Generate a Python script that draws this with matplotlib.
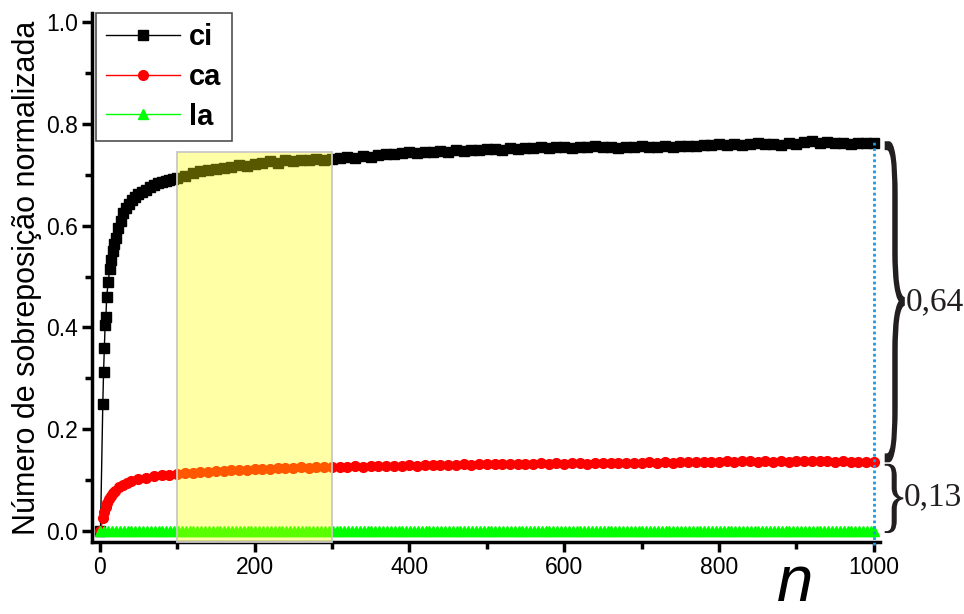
import numpy as np
import matplotlib
matplotlib.use('Agg')
import matplotlib.pyplot as plt
from matplotlib.textpath import TextPath
from matplotlib.patches import PathPatch, Rectangle
from matplotlib.font_manager import FontProperties
from matplotlib.path import Path

plt.rcParams['font.family'] = ['Liberation Sans', 'DejaVu Sans']

# overlap curves (step 10 after the initial rise)
n_ci = [1, 4, 5, 6, 7, 8, 9, 11, 13, 15, 17, 19, 21, 24, 27, 30, 34, 38, 42, 46,
        50, 55, 60, 65, 70, 75, 80, 85, 90, 95] + list(range(100, 1001, 10))
ci = [0.0, 0.25, 0.313, 0.36, 0.405, 0.42, 0.46, 0.49, 0.515, 0.532,
      0.55, 0.565, 0.575, 0.595, 0.61, 0.625, 0.635, 0.643, 0.65, 0.657,
      0.662, 0.667, 0.671, 0.676, 0.68, 0.683, 0.686, 0.688, 0.69, 0.692,
      0.693, 0.698, 0.703, 0.708, 0.709, 0.712, 0.714, 0.716, 0.719, 0.718,
      0.721, 0.724, 0.727, 0.723, 0.729, 0.728, 0.730, 0.729, 0.731, 0.730,
      0.732, 0.733, 0.735, 0.734, 0.737, 0.736, 0.739, 0.741, 0.740, 0.742,
      0.744, 0.742, 0.745, 0.744, 0.746, 0.745, 0.748, 0.747, 0.749, 0.748,
      0.750, 0.751, 0.749, 0.752, 0.751, 0.753, 0.752, 0.754, 0.753, 0.755,
      0.754, 0.753, 0.755, 0.754, 0.756, 0.754, 0.755, 0.753, 0.755, 0.754,
      0.756, 0.755, 0.754, 0.756, 0.755, 0.757, 0.756, 0.756, 0.758, 0.759,
      0.760, 0.759, 0.761, 0.759, 0.760, 0.762, 0.760, 0.761, 0.759, 0.762,
      0.761, 0.764, 0.766, 0.763, 0.764, 0.762, 0.763, 0.761, 0.763, 0.762,
      0.763]

n_ca = [1, 4, 6, 8, 10, 12, 14, 17, 20, 25, 30, 35, 40, 50, 60, 70, 80, 90] + list(range(100, 1001, 10))
ca = [0.0, 0.025, 0.038, 0.048, 0.055, 0.062, 0.068, 0.074, 0.079, 0.086,
      0.091, 0.095, 0.098, 0.102, 0.105, 0.108, 0.110, 0.111,
      0.112, 0.113, 0.114, 0.116, 0.116, 0.117, 0.118, 0.119, 0.119, 0.120,
      0.121, 0.121, 0.122, 0.123, 0.123, 0.124, 0.125, 0.124, 0.125, 0.126,
      0.126, 0.125, 0.126, 0.127, 0.126, 0.127, 0.127, 0.128, 0.127, 0.128,
      0.129, 0.128, 0.129, 0.130, 0.129, 0.130, 0.130, 0.131, 0.130, 0.131,
      0.131, 0.132, 0.131, 0.132, 0.131, 0.132, 0.132, 0.133, 0.132, 0.133,
      0.132, 0.133, 0.133, 0.132, 0.133, 0.134, 0.133, 0.134, 0.133, 0.134,
      0.134, 0.135, 0.134, 0.135, 0.134, 0.135, 0.136, 0.135, 0.136, 0.135,
      0.136, 0.137, 0.136, 0.137, 0.137, 0.136, 0.137, 0.136, 0.137, 0.136,
      0.137, 0.138, 0.137, 0.138, 0.137, 0.136, 0.137, 0.136, 0.135, 0.136,
      0.135]

# la stays at zero for every step
n_la = list(range(1, 1001, 5)) + [1000]
la = [0.0] * len(n_la)

highlight = (100, 300, 0.745)   # n start, n end, top of the shaded box
marker_n = 1000
ci_end, ca_end = 0.766, 0.135
diff_labels = ['0,64', '0,13']

fig = plt.figure(figsize=(9.64, 6.14), dpi=100)
ax = fig.add_axes([0.0954, 0.1178, 0.8175, 0.861])

ax.plot(n_ci, ci, color='black', lw=1.0, marker='s', ms=7, mec='black', label='ci', zorder=2)
ax.plot(n_ca, ca, color='red', lw=1.0, marker='o', ms=7, mec='red', label='ca', zorder=3)
ax.plot(n_la, la, color='#00ff00', lw=1.0, marker='^', ms=6.5, mec='#00ff00', label='la', zorder=4)

ax.set_xlim(-10, 1008)
ax.set_ylim(-0.021, 1.018)

# shaded window
ylo = ax.get_ylim()[0]
ax.add_patch(Rectangle((highlight[0], ylo), highlight[1] - highlight[0], highlight[2] - ylo,
                       facecolor=(1, 1, 0, 0.35), edgecolor='#c8c8c8', lw=1.3,
                       zorder=6, clip_on=False))

# dotted marker at the last step
ax.plot([marker_n, marker_n], [-0.027, ci_end], color='#1e9be0', lw=2, ls=(0, (1, 1)),
        zorder=5, clip_on=False)

ax.spines['top'].set_visible(False)
ax.spines['right'].set_visible(False)
for s in ['left', 'bottom']:
    ax.spines[s].set_linewidth(2.5)

ax.set_xticks(np.arange(0, 1001, 200))
ax.set_xticks(np.arange(100, 1000, 200), minor=True)
ax.set_yticks(np.arange(0, 1.01, 0.2))
ax.set_yticks(np.arange(0.1, 1.0, 0.2), minor=True)
ax.set_yticklabels([f'{v:.1f}' for v in np.arange(0, 1.01, 0.2)])
ax.tick_params(which='major', length=7, width=2.5, labelsize=16.5, pad=3)
ax.tick_params(which='minor', length=5, width=2.5)

ax.set_ylabel('Número de sobreposição normalizada', fontsize=22, labelpad=3)
fig.text(0.825, 0.0, 'n', fontsize=47, style='italic', ha='center', va='bottom')

leg = ax.legend(loc='upper left', bbox_to_anchor=(0.005, 1.0), borderaxespad=0,
                prop={'weight': 'bold', 'size': 21}, handlelength=2.55, handletextpad=0.3,
                labelspacing=0.4, borderpad=0.35, fancybox=False, frameon=True)
leg.get_frame().set_edgecolor('#222222')
leg.get_frame().set_linewidth(1.2)


def brace(ax, x0, x1, y0, y1):
    tp = TextPath((0, 0), '}', size=1, prop=FontProperties(family='Liberation Serif'))
    ext = tp.get_extents()
    v = tp.vertices.copy()
    v[:, 0] = x0 + (v[:, 0] - ext.x0) / ext.width * (x1 - x0)
    v[:, 1] = y0 + (v[:, 1] - ext.y0) / ext.height * (y1 - y0)
    ax.add_patch(PathPatch(Path(v, tp.codes), facecolor='#231f20', edgecolor='none',
                           transform=ax.transData, clip_on=False, zorder=7))


brace(ax, 1014, 1040, ca_end, ci_end)
brace(ax, 1014, 1038, -0.004, ca_end - 0.003)
ax.text(1041, (ci_end + ca_end) / 2, diff_labels[0], fontsize=24, family='Liberation Serif',
        ha='left', va='center', color='#231f20')
ax.text(1039, ca_end / 2, diff_labels[1], fontsize=24, family='Liberation Serif',
        ha='left', va='center', color='#231f20')

fig.savefig('out.png', dpi=100)
